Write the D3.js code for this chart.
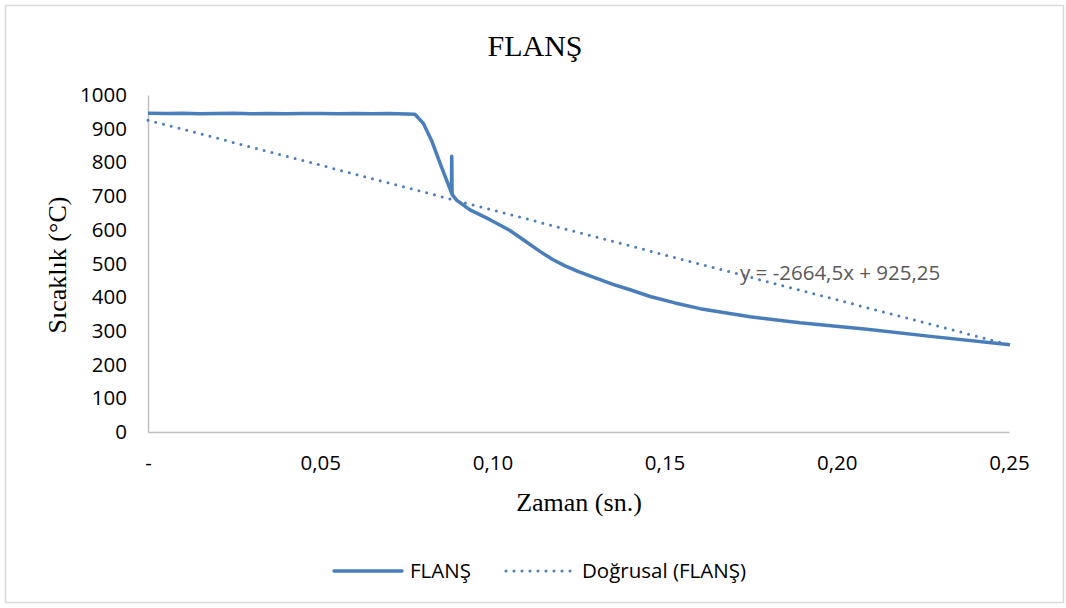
<!DOCTYPE html>
<html>
<head>
<meta charset="utf-8">
<script src="https://cdn.jsdelivr.net/npm/d3@7"></script>
<style>
  html, body { margin: 0; padding: 0; background: #fff; }
  svg { display: block; }
</style>
</head>
<body>
<svg id="chart" width="1066" height="608"></svg>
<script>
// Flange temperature over time (seconds, °C)
const timeValues = [
  0, 0.005, 0.010, 0.015, 0.020, 0.025, 0.030, 0.035, 0.040, 0.045, 0.050,
  0.055, 0.060, 0.065, 0.070, 0.0775,
  0.0800, 0.0823, 0.0852, 0.0881, 0.0882, 0.0883, 0.0896,
  0.0935, 0.0993, 0.1051, 0.1100, 0.1138, 0.1175, 0.1211, 0.1250, 0.1283,
  0.1350, 0.1400, 0.1458, 0.1530, 0.1603, 0.1748, 0.1893, 0.2088, 0.2279, 0.2503
];
const tempValues = [
  946, 945, 946, 944, 945, 946, 944, 945, 944, 945, 945,
  944, 945, 944, 945, 943,
  915, 866, 787, 710, 818, 705, 688,
  659, 630, 598, 563, 536, 512, 493, 476, 463,
  438, 422, 402, 383, 366, 342, 324, 305, 283, 259
];

// Linear trend: y = slope * x + intercept
const trendSlope = -2664.5;
const trendIntercept = 925.25;

const xTicks = [0, 0.05, 0.10, 0.15, 0.20, 0.25];
const yTicks = [0, 100, 200, 300, 400, 500, 600, 700, 800, 900, 1000];

const seriesName = "FLANŞ";
const trendName = "Doğrusal (FLANŞ)";
const lineColor = "#4a7ebb";

const svg = d3.select("#chart");
const plot = { left: 148, right: 1009, top: 95, bottom: 432 };

const x = d3.scaleLinear().domain([0, 0.25]).range([plot.left, plot.right]);
const y = d3.scaleLinear().domain([0, 1000]).range([plot.bottom, plot.top]);

// chart frame
svg.append("rect")
  .attr("x", 5.5).attr("y", 5.5)
  .attr("width", 1058).attr("height", 597)
  .attr("fill", "#fff").attr("stroke", "#d9d9d9").attr("stroke-width", 1.5);

// title
svg.append("text")
  .attr("x", 535).attr("y", 56)
  .attr("text-anchor", "middle")
  .style("font-family", "'Liberation Serif', 'Times New Roman', serif")
  .style("font-size", "30px")
  .attr("fill", "#000")
  .text("FLANŞ");

const tickFont = "'Open Sans', 'Liberation Sans', sans-serif";
const tickSize = "20.5px";

// y axis
const yAxis = svg.append("g")
  .attr("transform", `translate(${plot.left},0)`)
  .call(d3.axisLeft(y).tickValues(yTicks).tickSize(0).tickPadding(21)
    .tickFormat(d => String(d)));
yAxis.select(".domain").attr("stroke", "#bfbfbf").attr("stroke-width", 1.5);
yAxis.selectAll("text")
  .style("font-family", tickFont).style("font-size", tickSize).attr("fill", "#000");

// x axis
const fmtComma = d => d === 0 ? "-" : d.toFixed(2).replace(".", ",");
const xAxis = svg.append("g")
  .attr("transform", `translate(0,${plot.bottom})`)
  .call(d3.axisBottom(x).tickValues(xTicks).tickSize(0).tickPadding(23)
    .tickFormat(fmtComma));
xAxis.select(".domain").attr("stroke", "#bfbfbf").attr("stroke-width", 1.5);
xAxis.selectAll("text")
  .style("font-family", tickFont).style("font-size", tickSize).attr("fill", "#000");

// axis titles
svg.append("text")
  .attr("x", 579).attr("y", 511)
  .attr("text-anchor", "middle")
  .style("font-family", "'Liberation Serif', 'Times New Roman', serif")
  .style("font-size", "26px")
  .text("Zaman (sn.)");

svg.append("text")
  .attr("transform", "translate(66,265) rotate(-90)")
  .attr("text-anchor", "middle")
  .style("font-family", "'Liberation Serif', 'Times New Roman', serif")
  .style("font-size", "26px")
  .text("Sıcaklık (°C)");

// trend line
const trendPts = x.domain().map(t => [t, trendSlope * t + trendIntercept]);
svg.append("path")
  .datum(trendPts)
  .attr("d", d3.line().x(d => x(d[0])).y(d => y(d[1])))
  .attr("fill", "none")
  .attr("stroke", lineColor)
  .attr("stroke-width", 3)
  .attr("stroke-linecap", "round")
  .attr("stroke-dasharray", "0 8");

// data series
const data = timeValues.map((t, i) => [t, tempValues[i]]);
svg.append("path")
  .datum(data)
  .attr("d", d3.line().x(d => x(d[0])).y(d => y(d[1])))
  .attr("fill", "none")
  .attr("stroke", lineColor)
  .attr("stroke-width", 3.5)
  .attr("stroke-linejoin", "round");

// trend equation
const fmtNum = v => String(v).replace(".", ",");
svg.append("text")
  .attr("x", 740).attr("y", 280)
  .style("font-family", tickFont).style("font-size", tickSize)
  .attr("fill", "#595959")
  .text(`y = ${fmtNum(trendSlope)}x + ${fmtNum(trendIntercept)}`);

// legend
const legY = 571;
svg.append("line")
  .attr("x1", 334).attr("x2", 402).attr("y1", legY).attr("y2", legY)
  .attr("stroke", lineColor).attr("stroke-width", 3.5).attr("stroke-linecap", "round");
svg.append("text")
  .attr("x", 410).attr("y", legY + 7)
  .style("font-family", tickFont).style("font-size", tickSize)
  .text(seriesName);
svg.append("line")
  .attr("x1", 506).attr("x2", 575).attr("y1", legY).attr("y2", legY)
  .attr("stroke", lineColor).attr("stroke-width", 3).attr("stroke-linecap", "round")
  .attr("stroke-dasharray", "0 8");
svg.append("text")
  .attr("x", 582).attr("y", legY + 7)
  .style("font-family", tickFont).style("font-size", tickSize)
  .text(trendName);
</script>
</body>
</html>
